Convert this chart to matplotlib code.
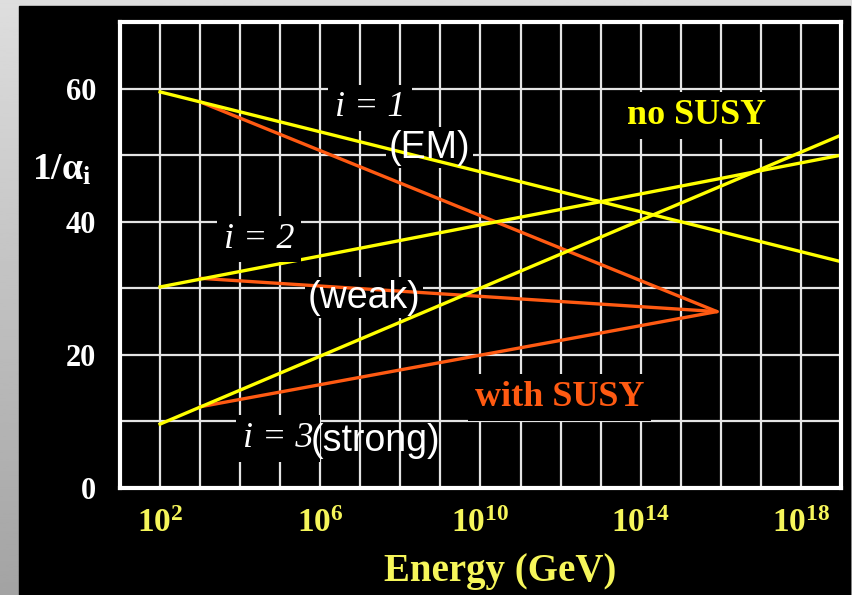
import numpy as np
import matplotlib.pyplot as plt
from matplotlib.patches import Rectangle
from matplotlib.ticker import FixedLocator, NullFormatter

plt.rcParams['font.family'] = 'Liberation Serif'
plt.rcParams['mathtext.fontset'] = 'custom'
plt.rcParams['mathtext.rm'] = 'Liberation Serif:bold'
plt.rcParams['mathtext.bf'] = 'Liberation Serif:bold'
plt.rcParams['mathtext.it'] = 'Liberation Serif:italic:bold'

# Data: inverse couplings 1/alpha_i vs energy (GeV)
energy_no_susy = [1e2, 1e19]
inv_alpha1_no_susy = [59.5, 34.0]
inv_alpha2_no_susy = [30.2, 50.0]
inv_alpha3_no_susy = [9.6, 53.0]

energy_susy = [1e3, 8e15]
inv_alpha1_susy = [58.0, 26.5]
inv_alpha2_susy = [31.5, 26.5]
inv_alpha3_susy = [12.2, 26.5]

x_ticks = [1e2, 1e6, 1e10, 1e14, 1e18]
x_tick_labels = [r'$10^{2}$', r'$10^{6}$', r'$10^{10}$', r'$10^{14}$', r'$10^{18}$']
y_ticks = [0, 20, 40, 60]
y_minor = [10, 30, 50, 70]

YELLOW = '#ffff00'
ORANGE = '#ff5a12'
PALE_YELLOW = '#f6f65a'

W, H = 853, 595
fig = plt.figure(figsize=(W / 100, H / 100), dpi=100, facecolor='black')

# grey border + black panel
bg = fig.add_axes([0, 0, 1, 1], zorder=-10)
grad = np.linspace(0.87, 0.64, 256).reshape(-1, 1)
bg.imshow(grad, cmap='gray', vmin=0, vmax=1, aspect='auto', extent=[0, 1, 0, 1])
bg.add_patch(Rectangle((19 / W, 0), (850 - 19) / W, (595 - 6) / H, color='black'))
bg.set_xlim(0, 1)
bg.set_ylim(0, 1)
bg.axis('off')

ax = fig.add_axes([120 / W, 1 - 488 / H, (841 - 120) / W, (488 - 22) / H])
ax.set_facecolor('black')
ax.set_xscale('log')
ax.set_xlim(1e1, 1e19)
ax.set_ylim(0, 70)

# lines
for vals in (inv_alpha1_no_susy, inv_alpha2_no_susy, inv_alpha3_no_susy):
    ax.plot(energy_no_susy, vals, color=YELLOW, lw=2.4, zorder=2.2)
for vals in (inv_alpha1_susy, inv_alpha2_susy, inv_alpha3_susy):
    ax.plot(energy_susy, vals, color=ORANGE, lw=2.4, zorder=2.1, solid_capstyle='round')

# axes, grid
ax.set_xticks(x_ticks)
ax.set_xticklabels(x_tick_labels)
ax.xaxis.set_minor_locator(FixedLocator(10.0 ** np.arange(1, 20)))
ax.xaxis.set_minor_formatter(NullFormatter())
ax.set_yticks(y_ticks)
ax.set_yticks(y_minor, minor=True)
ax.grid(which='both', color='#e4e4e4', lw=1.6)
ax.set_axisbelow(True)
ax.tick_params(which='both', length=0)
ax.tick_params(axis='x', labelcolor=PALE_YELLOW, labelsize=24, pad=15)
ax.tick_params(axis='y', labelcolor='white', labelsize=22, pad=17)
for lab in ax.get_yticklabels():
    lab.set_fontweight('bold')
for sp in ax.spines.values():
    sp.set_color('white')
    sp.set_linewidth(3)
    sp.set_zorder(6)

fig.text(62 / W, 1 - 170 / H, r'1/α$_\mathrm{i}$', color='white', fontsize=27,
         fontweight='bold', ha='center', va='center')
fig.text(500 / W, 1 - 572 / H, 'Energy (GeV)', color=PALE_YELLOW, fontsize=28,
         fontweight='bold', ha='center', va='center')

black_box = dict(facecolor='black', edgecolor='none', pad=5)

# labels with black box on top of lines
ax.text(10 ** 7.24, 57.1, 'i = 1', color='white', fontsize=26, style='italic',
        ha='center', va='center', bbox=black_box, zorder=4)
ax.text(10 ** 4.47, 37.4, 'i = 2', color='white', fontsize=26, style='italic',
        ha='center', va='center', bbox=black_box, zorder=4)
ax.text(10 ** 4.95, 7.4, 'i = 3', color='white', fontsize=26, style='italic',
        ha='center', va='center', bbox=black_box, zorder=4)
ax.text(10 ** 15.4, 56.0, 'no SUSY', color=YELLOW, fontsize=26, fontweight='bold',
        ha='center', va='center', bbox=black_box, zorder=4)
ax.text(10 ** 11.97, 13.6, 'with SUSY', color=ORANGE, fontsize=26, fontweight='bold',
        ha='center', va='center', bbox=black_box, zorder=4)

# sans labels: box below the lines, text above
for x, y, s, boxed in [(10 ** 8.72, 51.1, '(EM)', True),
                       (10 ** 7.1, 28.6, '(weak)', True),
                       (10 ** 7.37, 7.0, '(strong)', False)]:
    if boxed:
        ax.text(x, y, s, color='black', fontsize=27, family='Liberation Sans',
                ha='center', va='center', bbox=dict(facecolor='black', edgecolor='none', pad=2),
                zorder=1.5)
    ax.text(x, y, s, color='white', fontsize=27, family='Liberation Sans',
            ha='center', va='center', zorder=5)

plt.savefig('out.png', dpi=100, facecolor='black')
